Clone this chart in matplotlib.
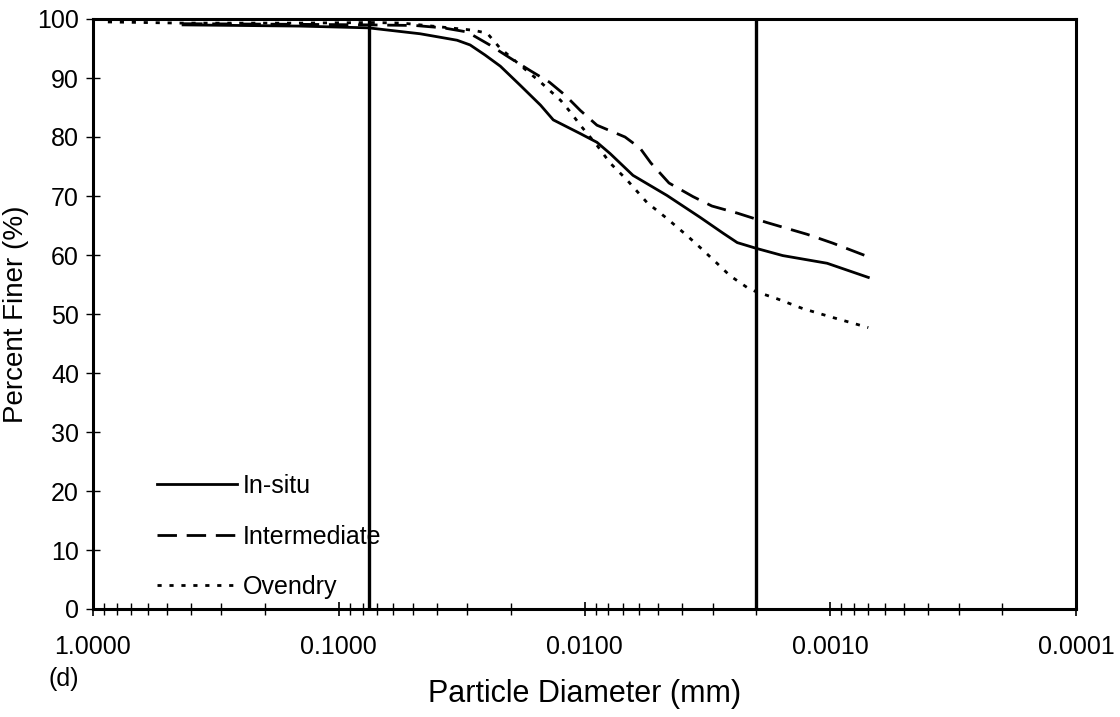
import numpy as np
import matplotlib.pyplot as plt

plt.rcParams['font.family'] = ['Liberation Sans', 'DejaVu Sans']

# Dados (diametro em mm, percentagem passante)
d_insitu = [0.43, 0.144, 0.0757, 0.0467, 0.0386, 0.033, 0.0292, 0.0254, 0.022,
            0.0183, 0.0151, 0.0134, 0.01043, 0.0089, 0.00787, 0.00635, 0.00462,
            0.00339, 0.00273, 0.00239, 0.00199, 0.00156, 0.00103, 0.0007]
p_insitu = [99.0, 98.8, 98.5, 97.5, 96.9, 96.4, 95.6, 93.9, 92.0,
            88.8, 85.4, 82.9, 80.6, 79.1, 77.2, 73.5, 70.1,
            66.4, 63.7, 62.1, 61.1, 59.9, 58.6, 56.2]

d_inter = [0.43, 0.15, 0.075, 0.049, 0.0376, 0.030, 0.0243, 0.0201, 0.0167,
           0.0139, 0.012, 0.0104, 0.0089, 0.00684, 0.00594, 0.00537, 0.00453,
           0.00362, 0.00303, 0.00239, 0.00181, 0.00124, 0.000975, 0.00069]
p_inter = [99.2, 99.1, 99.0, 98.9, 98.5, 97.8, 95.6, 93.4, 91.3,
           89.3, 87.1, 84.5, 82.0, 80.0, 78.1, 75.6, 72.2,
           69.9, 68.3, 67.1, 65.5, 63.5, 62.0, 59.6]

d_oven = [0.87, 0.43, 0.15, 0.0725, 0.055, 0.0284, 0.0249, 0.0221, 0.0183, 0.0151,
          0.0125, 0.0114, 0.0104, 0.0089, 0.00787, 0.00671, 0.00557, 0.00462,
          0.00383, 0.00339, 0.00289, 0.00256, 0.00218, 0.00201, 0.00165, 0.00129,
          0.000975, 0.0007]
p_oven = [99.5, 99.3, 99.3, 99.4, 99.3, 98.1, 97.6, 95.1, 92.2, 89.3,
          86.2, 84.2, 82.0, 78.6, 75.6, 72.7, 68.9, 66.2,
          63.3, 61.3, 58.6, 56.5, 54.5, 53.8, 52.6, 50.9,
          49.4, 47.7]

# limites areia/silte/argila
limites = [0.075, 0.002]

xticks = [1.0, 0.1, 0.01, 0.001, 0.0001]
xlabels = ['1.0000', '0.1000', '0.0100', '0.0010', '0.0001']
yticks = list(range(0, 101, 10))

fig = plt.figure(figsize=(11.2, 7.17), dpi=100)
ax = fig.add_axes([93 / 1120, 1 - 609 / 717, (1076 - 93) / 1120, (609 - 19) / 717])

ax.plot(d_insitu, p_insitu, color='black', lw=2.0, ls='-', label='In-situ')
ax.plot(d_inter, p_inter, color='black', lw=2.0, ls=(0, (7, 3.5)), label='Intermediate')
ax.plot(d_oven, p_oven, color='black', lw=2.0, ls=(0, (1.5, 2.8)), label='Ovendry')

for x in limites:
    ax.axvline(x, color='black', lw=2.4)

ax.set_xscale('log')
ax.set_xlim(1.0, 0.0001)
ax.set_ylim(0, 100)
ax.set_xticks(xticks)
ax.set_xticklabels(xlabels)
ax.set_yticks(yticks)
ax.tick_params(axis='x', which='major', direction='inout', length=10, width=1.2,
               labelsize=18, pad=14)
ax.tick_params(axis='x', which='minor', direction='inout', length=9, width=1.0)
ax.tick_params(axis='y', direction='inout', length=10, width=1.0, labelsize=18, pad=5)

for s in ax.spines.values():
    s.set_linewidth(2.2)

ax.set_ylabel('Percent Finer (%)', fontsize=20)
ax.yaxis.set_label_coords(-64 / 983, 0.5)
fig.text(585 / 1120, 1 - 694 / 717, 'Particle Diameter (mm)', fontsize=22,
         ha='center', va='center')
fig.text(48 / 1120, 1 - 679 / 717, '(d)', fontsize=18, ha='left', va='center')

ax.legend(loc='lower left', bbox_to_anchor=(64 / 983, 10 / 590), frameon=False,
          fontsize=18, handlelength=3.2, handletextpad=0.24, labelspacing=1.06,
          borderaxespad=0, borderpad=0)

fig.savefig('out.png', dpi=100)
